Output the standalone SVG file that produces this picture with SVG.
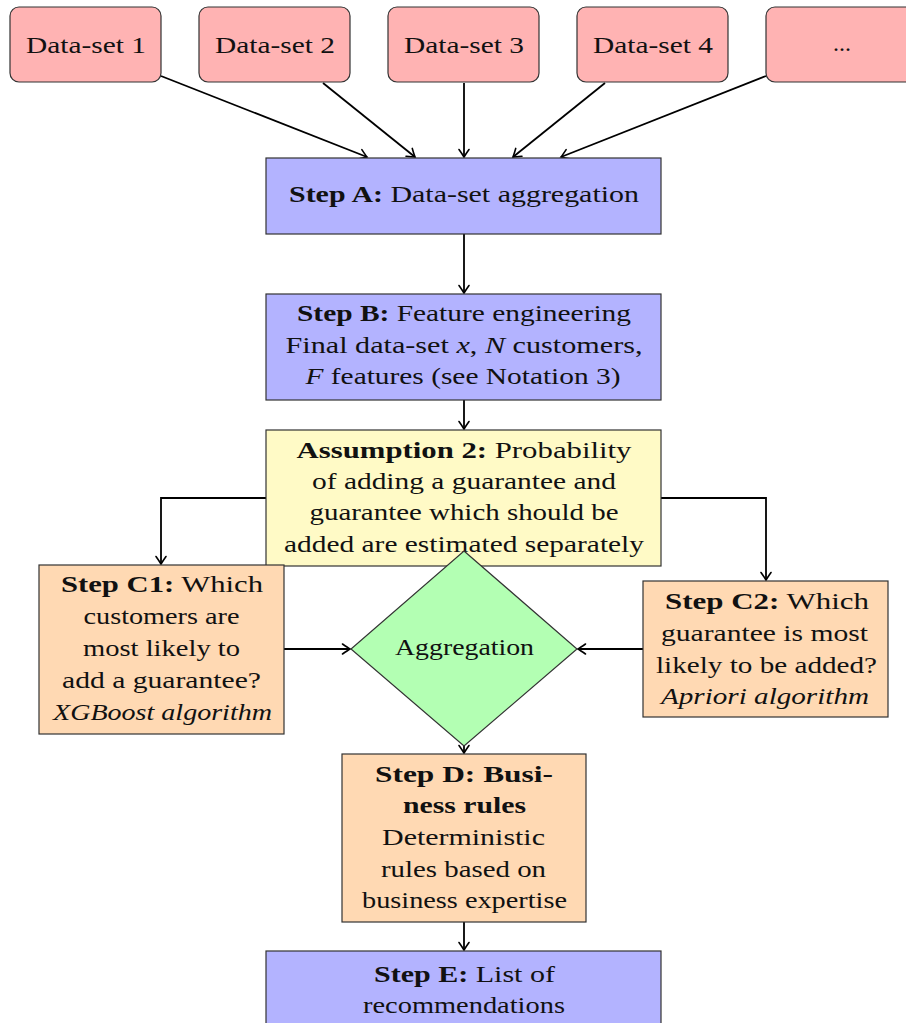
<svg xmlns="http://www.w3.org/2000/svg" width="906" height="1023" viewBox="0 0 906 1023">
<style>
text{font-family:"Liberation Serif","Times New Roman",serif;font-size:24px;fill:#111;text-anchor:middle}
.b{font-weight:bold}
.i{font-style:italic}
.box{stroke:#333;stroke-width:1.2}
.ds{fill:#ffb3b3}
.blue{fill:#b3b3ff}
.yel{fill:#fffac6}
.org{fill:#ffd9b3}
.grn{fill:#b3ffb3}
.c{fill:none;stroke:#000;stroke-width:1.8;marker-end:url(#ah)}
</style>
<defs>
<marker id="ah" viewBox="-9 -7 11 14" refX="0" refY="0" markerWidth="11" markerHeight="14" markerUnits="userSpaceOnUse" orient="auto">
<path d="M-7.5,-5 Q-2.2,-1.3 0,0 Q-2.2,1.3 -7.5,5" fill="none" stroke="#000" stroke-width="1.6" stroke-linecap="round"/>
</marker>
</defs>
<g id="connectors">
<path class="c" d="M161,76 L367,157"/>
<path class="c" d="M323,83 L415,157"/>
<path class="c" d="M464,83 L464,157"/>
<path class="c" d="M605,83 L513,157"/>
<path class="c" d="M766,76 L561,157"/>
<path class="c" d="M464,234 L464,293"/>
<path class="c" d="M464,400 L464,429"/>
<path class="c" d="M266,498 L161,498 L161,564"/>
<path class="c" d="M661,498 L766,498 L766,580"/>
<path class="c" d="M284,649 L350,649"/>
<path class="c" d="M643,649 L578,649"/>
<path class="c" d="M464,740 L464,753"/>
<path class="c" d="M464,922 L464,950"/>
</g>
<g id="ds1"><rect class="box ds" x="10" y="7" width="151" height="75" rx="9"/><text x="86" y="53" textLength="120" lengthAdjust="spacingAndGlyphs">Data-set 1</text></g>
<g id="ds2"><rect class="box ds" x="199" y="7" width="151" height="75" rx="9"/><text x="275" y="53" textLength="120" lengthAdjust="spacingAndGlyphs">Data-set 2</text></g>
<g id="ds3"><rect class="box ds" x="388" y="7" width="151" height="75" rx="9"/><text x="464" y="53" textLength="120" lengthAdjust="spacingAndGlyphs">Data-set 3</text></g>
<g id="ds4"><rect class="box ds" x="577" y="7" width="151" height="75" rx="9"/><text x="653" y="53" textLength="120" lengthAdjust="spacingAndGlyphs">Data-set 4</text></g>
<g id="ds5"><rect class="box ds" x="766" y="7" width="151" height="75" rx="9"/><text x="842" y="51">...</text></g>
<g id="stepA"><rect class="box blue" x="266" y="158" width="395" height="76"/><text x="464" y="202" textLength="350" lengthAdjust="spacingAndGlyphs"><tspan class="b">Step A:</tspan> Data-set aggregation</text></g>
<g id="stepB"><rect class="box blue" x="266" y="294" width="395" height="106"/>
<text x="464" y="321" textLength="334" lengthAdjust="spacingAndGlyphs"><tspan class="b">Step B:</tspan> Feature engineering</text>
<text x="464" y="353" textLength="357" lengthAdjust="spacingAndGlyphs">Final data-set <tspan class="i">x</tspan>, <tspan class="i">N</tspan> customers,</text>
<text x="463" y="384" textLength="315" lengthAdjust="spacingAndGlyphs"><tspan class="i">F</tspan> features (see Notation 3)</text></g>
<g id="assumption"><rect class="box yel" x="266" y="430" width="395" height="136"/>
<text x="464" y="458" textLength="335" lengthAdjust="spacingAndGlyphs"><tspan class="b">Assumption 2:</tspan> Probability</text>
<text x="464" y="489" textLength="304" lengthAdjust="spacingAndGlyphs">of adding a guarantee and</text>
<text x="464" y="520" textLength="309" lengthAdjust="spacingAndGlyphs">guarantee which should be</text>
<text x="464" y="552" textLength="360" lengthAdjust="spacingAndGlyphs">added are estimated separately</text></g>
<g id="stepC1"><rect class="box org" x="39" y="565" width="245" height="169"/>
<text x="162" y="592" textLength="202" lengthAdjust="spacingAndGlyphs"><tspan class="b">Step C1:</tspan> Which</text>
<text x="161.5" y="624" textLength="156" lengthAdjust="spacingAndGlyphs">customers are</text>
<text x="161.5" y="656" textLength="157" lengthAdjust="spacingAndGlyphs">most likely to</text>
<text x="161.5" y="688" textLength="199" lengthAdjust="spacingAndGlyphs">add a guarantee?</text>
<text x="162.5" y="720" class="i" textLength="219" lengthAdjust="spacingAndGlyphs">XGBoost algorithm</text></g>
<g id="stepC2"><rect class="box org" x="643" y="581" width="245" height="136"/>
<text x="767" y="609" textLength="204" lengthAdjust="spacingAndGlyphs"><tspan class="b">Step C2:</tspan> Which</text>
<text x="764.5" y="641" textLength="207" lengthAdjust="spacingAndGlyphs">guarantee is most</text>
<text x="766.5" y="673" textLength="221" lengthAdjust="spacingAndGlyphs">likely to be added?</text>
<text x="765" y="704" class="i" textLength="208" lengthAdjust="spacingAndGlyphs">Apriori algorithm</text></g>
<g id="aggregation"><polygon class="box grn" points="464,551 577,649 464,746 351,649"/><text x="464.5" y="655" textLength="139" lengthAdjust="spacingAndGlyphs">Aggregation</text></g>
<g id="stepD"><rect class="box org" x="342" y="754" width="244" height="168"/>
<text x="464" y="782" class="b" textLength="178" lengthAdjust="spacingAndGlyphs">Step D: Busi-</text>
<text x="464.5" y="813" class="b" textLength="123" lengthAdjust="spacingAndGlyphs">ness rules</text>
<text x="463.5" y="845" textLength="163" lengthAdjust="spacingAndGlyphs">Deterministic</text>
<text x="463.5" y="877" textLength="165" lengthAdjust="spacingAndGlyphs">rules based on</text>
<text x="464.5" y="908" textLength="205" lengthAdjust="spacingAndGlyphs">business expertise</text></g>
<g id="stepE"><rect class="box blue" x="266" y="951" width="395" height="80"/>
<text x="464.5" y="982" textLength="181" lengthAdjust="spacingAndGlyphs"><tspan class="b">Step E:</tspan> List of</text>
<text x="464" y="1013" textLength="202" lengthAdjust="spacingAndGlyphs">recommendations</text></g>
</svg>
